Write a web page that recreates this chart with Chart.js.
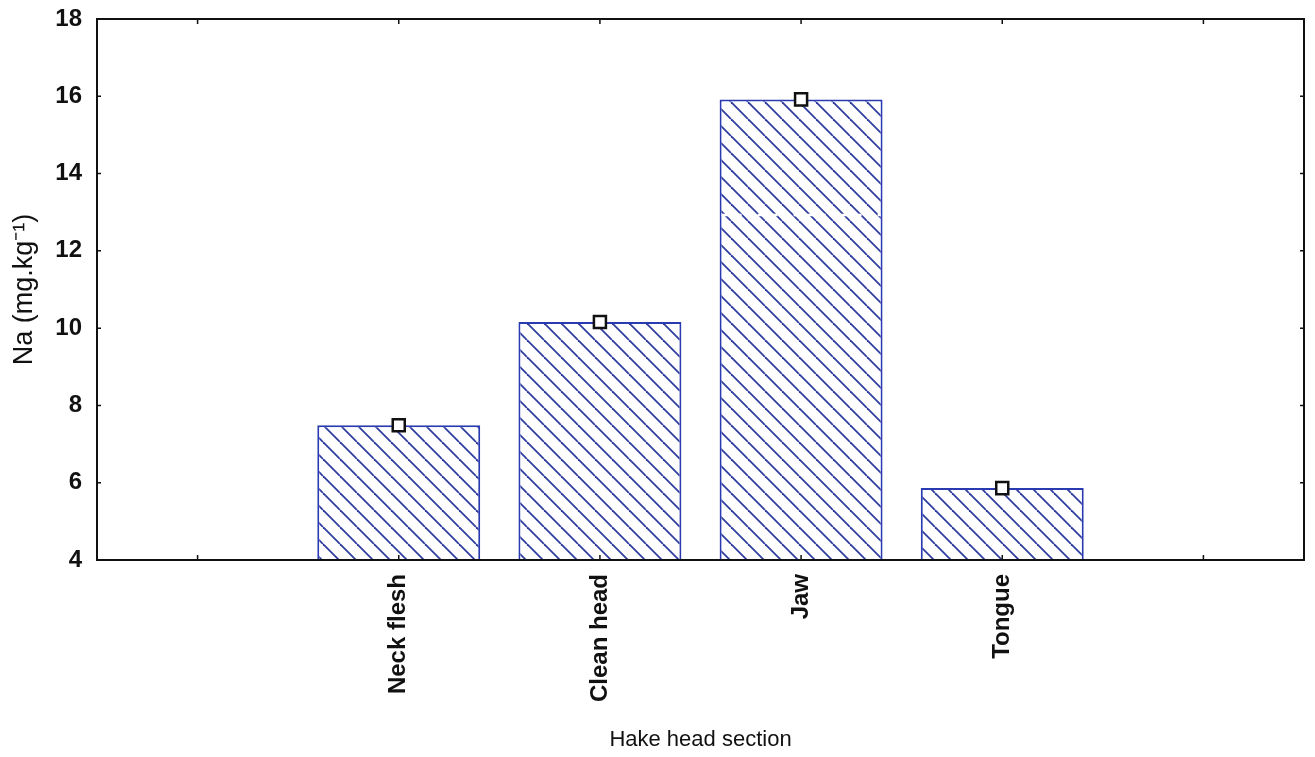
<!DOCTYPE html>
<html>
<head>
<meta charset="utf-8">
<script src="https://cdn.jsdelivr.net/npm/chart.js@4.4.1/dist/chart.umd.min.js"></script>
<style>
  html, body { margin: 0; padding: 0; background: #ffffff; }
  canvas { display: block; }
</style>
</head>
<body>
<canvas id="naChart" width="1315" height="757"></canvas>
<script>
// カテゴリ（両端は空の区画）
const sections = ['', 'Neck flesh', 'Clean head', 'Jaw', 'Tongue', ''];
// Na の平均値 (mg.kg-1)
const naMeans = [null, 7.49, 10.16, 15.92, 5.86, null];
// y 軸の目盛り
const yTicks = [4, 6, 8, 10, 12, 14, 16, 18];
// Jaw の棒に入っている白い破線の位置
const jawDashValue = 12.93;

// 斜線のハッチパターンを作る
function makeHatch() {
    const s = 17;
    const tile = document.createElement('canvas');
    tile.width = s;
    tile.height = s;
    const c = tile.getContext('2d');
    c.fillStyle = '#ffffff';
    c.fillRect(0, 0, s, s);
    c.strokeStyle = '#2f3c9e';
    c.lineWidth = 1.8;
    for (const k of [-s, 0, s]) {
        c.beginPath();
        c.moveTo(k, 0);
        c.lineTo(k + s, s);
        c.stroke();
    }
    return c.createPattern(tile, 'repeat');
}

// 枠線と内向きの目盛りを描く
const frameTicks = {
    id: 'frameTicks',
    afterDatasetsDraw(chart) {
        const { ctx, chartArea: a, scales } = chart;
        ctx.save();
        ctx.strokeStyle = '#111111';
        ctx.lineWidth = 2;
        ctx.strokeRect(a.left, a.top, a.right - a.left, a.bottom - a.top);
        ctx.lineWidth = 1.5;
        ctx.beginPath();
        scales.y.ticks.forEach(t => {
            const y = scales.y.getPixelForValue(t.value);
            ctx.moveTo(a.left, y); ctx.lineTo(a.left + 4, y);
            ctx.moveTo(a.right, y); ctx.lineTo(a.right - 4, y);
        });
        sections.forEach((_, i) => {
            const x = scales.x.getPixelForValue(i);
            ctx.moveTo(x, a.bottom); ctx.lineTo(x, a.bottom - 5);
            ctx.moveTo(x, a.top); ctx.lineTo(x, a.top + 5);
        });
        ctx.stroke();
        ctx.restore();
    },
    afterDraw(chart) {
        // Jaw の棒の白い破線
        const bar = chart.getDatasetMeta(0).data[3];
        const y = chart.scales.y.getPixelForValue(jawDashValue);
        const ctx = chart.ctx;
        ctx.save();
        ctx.strokeStyle = '#ffffff';
        ctx.lineWidth = 2.5;
        ctx.setLineDash([8, 4]);
        ctx.beginPath();
        ctx.moveTo(bar.x - bar.width / 2 + 2, y);
        ctx.lineTo(bar.x + bar.width / 2 - 2, y);
        ctx.stroke();
        ctx.restore();
    }
};

const config = {
    data: {
        labels: sections,
        datasets: [{
            type: 'bar',
            data: naMeans,
            backgroundColor: makeHatch(),
            borderColor: '#2a3ab0',
            borderWidth: 2,
            borderSkipped: false,
            barPercentage: 0.81,
            categoryPercentage: 1.0,
            order: 2
        }, {
            type: 'line',
            data: naMeans,
            showLine: false,
            pointStyle: 'rect',
            pointRadius: 8.5,
            pointBackgroundColor: '#ffffff',
            pointBorderColor: '#111111',
            pointBorderWidth: 2.5,
            order: 1
        }]
    },
    options: {
        responsive: false,
        animation: false,
        layout: { padding: { top: 19, right: 7, left: 0, bottom: 0 } },
        plugins: { legend: { display: false }, tooltip: { enabled: false } },
        scales: {
            x: {
                grid: { display: false, drawTicks: false },
                border: { display: false },
                ticks: {
                    color: '#111111',
                    font: { family: "'Liberation Sans', Arial, sans-serif", size: 24, weight: 'bold' },
                    minRotation: 90,
                    maxRotation: 90,
                    autoSkip: false,
                    padding: 14
                },
                title: {
                    display: true,
                    text: 'Hake head section',
                    color: '#111111',
                    font: { family: "'Liberation Sans', Arial, sans-serif", size: 22 },
                    padding: { top: 0, bottom: 4 }
                },
                afterFit: s => { s.height = 197; s.paddingLeft = 0; s.paddingRight = 0; }
            },
            y: {
                min: 4,
                max: 18,
                afterBuildTicks: s => { s.ticks = yTicks.map(v => ({ value: v })); },
                grid: { display: false, drawTicks: false },
                border: { display: false },
                ticks: {
                    color: '#111111',
                    font: { family: "'Liberation Sans', Arial, sans-serif", size: 24, weight: 'bold' },
                    padding: 15
                },
                title: {
                    display: true,
                    text: 'Na (mg.kg⁻¹)',
                    color: '#111111',
                    font: { family: "'Liberation Sans', Arial, sans-serif", size: 27 },
                    padding: { top: 8, bottom: 0 }
                },
                afterFit: s => { s.width = 97; s.paddingTop = 0; s.paddingBottom = 0; }
            }
        }
    },
    plugins: [frameTicks]
};

const naChart = new Chart(document.querySelector('#naChart'), config);
</script>
</body>
</html>
